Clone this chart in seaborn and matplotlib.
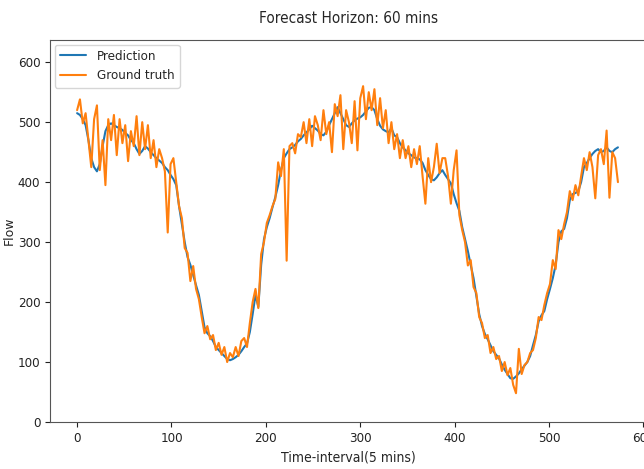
import numpy as np
import pandas as pd
import matplotlib
matplotlib.use("Agg")
import matplotlib.pyplot as plt
import seaborn as sns

# time steps (every 3rd 5-min interval)
steps = list(range(0, 576, 3))

prediction = [
    515, 512, 505, 495, 470, 440, 425, 418, 430, 460,
    485, 495, 498, 495, 492, 490, 487, 482, 478, 470,
    465, 455, 447, 452, 460, 456, 450, 445, 440, 436,
    432, 425, 420, 412, 405, 395, 360, 330, 300, 275,
    262, 245, 228, 212, 185, 158, 148, 143, 135, 125,
    120, 115, 110, 105, 103, 105, 108, 112, 118, 125,
    131, 150, 180, 212, 192, 262, 305, 325, 340, 358,
    375, 395, 420, 440, 448, 455, 458, 462, 468, 472,
    478, 483, 488, 494, 490, 486, 480, 478, 484, 495,
    505, 515, 525, 515, 505, 495, 492, 498, 503, 506,
    508, 512, 518, 524, 525, 520, 505, 494, 488, 485,
    483, 490, 478, 475, 465, 458, 453, 448, 445, 441,
    440, 438, 432, 420, 412, 405, 403, 408, 415, 420,
    412, 405, 398, 380, 365, 352, 325, 305, 285, 262,
    240, 210, 180, 160, 147, 138, 128, 118, 112, 106,
    96, 87, 80, 73, 72, 76, 81, 88, 94, 100,
    110, 128, 145, 168, 178, 185, 205, 222, 240, 262,
    300, 318, 322, 340, 370, 380, 382, 385, 400, 425,
    432, 440, 447, 452, 455, 450, 452, 458, 452, 450,
    455, 458,
]

ground_truth = [
    520, 538, 498, 515, 470, 425, 505, 528, 420, 470,
    395, 505, 470, 512, 445, 505, 465, 495, 435, 485,
    460, 510, 445, 500, 455, 495, 440, 470, 425, 455,
    440, 418, 316, 430, 440, 400, 360, 340, 290, 282,
    235, 260, 222, 205, 175, 148, 160, 138, 145, 120,
    132, 112, 125, 100, 115, 108, 125, 110, 135, 140,
    125, 165, 200, 222, 190, 280, 300, 332, 345, 360,
    372, 433, 410, 455, 269, 460, 465, 448, 480, 475,
    500, 465, 505, 460, 510, 495, 470, 520, 480, 500,
    450, 530, 510, 545, 455, 520, 500, 465, 535, 453,
    540, 560, 505, 550, 520, 555, 495, 540, 490, 520,
    465, 500, 455, 480, 440, 470, 440, 460, 425, 455,
    430, 460, 410, 364, 440, 400, 425, 464, 415, 440,
    440, 410, 364, 420, 453, 345, 320, 300, 261, 270,
    225, 215, 175, 165, 140, 145, 115, 125, 105, 110,
    85, 100, 78, 90, 62, 48, 122, 80, 95, 100,
    115, 120, 140, 175, 170, 195, 215, 230, 270, 255,
    320, 305, 330, 350, 385, 370, 395, 378, 410, 440,
    420, 450, 425, 373, 445, 455, 430, 486, 374, 450,
    440, 400,
]

df = pd.DataFrame({"step": steps, "Prediction": prediction, "Ground truth": ground_truth})

sns.set_style("ticks")
plt.rcParams["font.family"] = ["DejaVu Sans"]
plt.rcParams["font.stretch"] = "condensed"

fig = plt.figure(figsize=(6.44, 4.69), dpi=100)
ax = fig.add_axes([0.0776, 0.1002, 0.927, 0.8145])

sns.lineplot(data=df, x="step", y="Prediction", color="#1f77b4", linewidth=1.5,
             label="Prediction", ax=ax)
sns.lineplot(data=df, x="step", y="Ground truth", color="#ff7f0e", linewidth=1.5,
             label="Ground truth", ax=ax)

ax.set_xlim(-28.75, 603.75)
ax.set_ylim(0, 637)
ax.set_xticks([0, 100, 200, 300, 400, 500, 600])
ax.set_yticks([0, 100, 200, 300, 400, 500, 600])
ax.tick_params(labelsize=9.5, colors="#222222")
for s in ax.spines.values():
    s.set_color("#555555")
    s.set_visible(True)

ax.set_title("Forecast Horizon: 60 mins", fontsize=11, pad=12)
ax.set_xlabel("Time-interval(5 mins)", fontsize=10)
ax.set_ylabel("Flow", fontsize=9, fontstretch="normal")
ax.yaxis.set_label_coords(-0.058, 0.5)
ax.legend(loc="upper left", fontsize=9.5, borderaxespad=0.35)

fig.savefig("out.png", dpi=100)
